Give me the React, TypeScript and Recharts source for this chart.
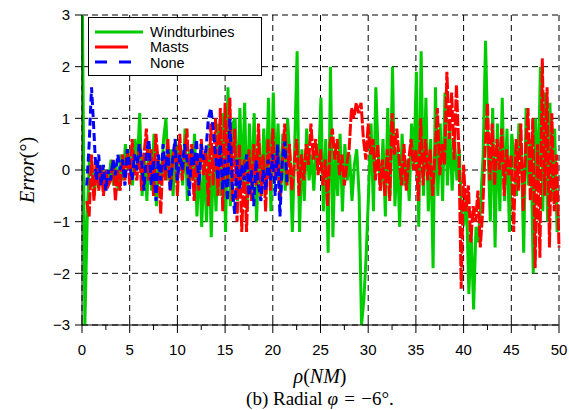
import { LineChart, Line, XAxis, YAxis, CartesianGrid } from 'recharts';

// samples every 0.25 NM
const xStep = 0.25;

const windStart = 0.05;
const windturbines = [
  3, -3, -0.9, 0.3,
  0.1, -0.5, 0.2, -0.3,
  0.1, -0.4, 0.0, -0.2,
  0.2, -0.3, 0.1, -0.4,
  0.3, -0.2, 0.5, 0.0,
  0.4, -0.3, 0.6, 0.1,
  1.1, -0.5, 0.3, -0.6,
  0.5, -0.4, 0.7, -0.7,
  0.2, -0.3, 0.6, 1.0,
  -0.2, 0.4, -0.5, 0.6,
  0.0, 0.5, -0.3, 0.8,
  -0.6, 0.4, -0.2, 0.7,
  -0.9, 0.3, -1.1, 0.2,
  -1.0, 0.5, -1.3, 0.4,
  -0.8, 0.9, -0.5, 1.1,
  -1.2, 1.6, -0.7, 0.9,
  1.0, -0.6, 1.2, -0.3,
  1.3, -0.8, 0.9, -0.4,
  1.1, -1.0, 0.6, -0.5,
  0.8, -0.3, 1.4, -0.8,
  1.5, -0.2, 0.9, -0.6,
  0.7, -0.4, 1.0, 0.2,
  -1.2, 0.5, 2.3, -1.2,
  0.4, -0.6, 0.8, -0.2,
  0.3, -0.4, 0.5, 0.1,
  1.4, -0.8, 0.6, -1.6,
  2.0, -1.3, 0.4, -0.5,
  0.7, -0.8, 0.5, -0.2,
  0.3, -0.6, 0.1, 0.4,
  -0.5, -3.0, -2.5, -1.6,
  -0.4, 0.9, -0.8, 1.6,
  0.3, -0.4, 0.6, -0.9,
  1.2, -0.5, 2.0, -0.7,
  0.4, -1.1, 0.7, -0.3,
  0.2, -0.6, 0.9, 0.1,
  1.9, -1.1, 2.3, -0.5,
  1.4, -0.8, 0.6, -1.9,
  1.6, -0.5, 0.9, -0.6,
  1.5, -0.3, 0.8, -0.4,
  0.6, -0.2, 0.4, -0.9,
  -1.0, -0.5, -2.4, -1.2,
  -2.7, -1.1, -1.4, -0.6,
  0.3, 2.5, 0.5, -1.0,
  1.2, -1.5, 0.9, -0.8,
  1.4, -0.6, 0.8, -1.2,
  0.7, 0.2, -0.5, 0.9,
  0.4, -1.6, 1.2, -0.3,
  0.6, -2.0, 1.0, -0.4,
  2.0, -0.8, 1.5, -1.0,
  1.3, -0.6, 0.8, -1.2,
];

const mastsStart = 0.5;
const masts = [
  -0.6, -0.9,
  0.3, -0.6, 0.2, -0.4,
  0.1, -0.5, 0.0, -0.3,
  -0.2, 0.2, -0.6, 0.0,
  -0.4, 0.3, -0.2, 0.4,
  -0.3, 0.6, 0.0, -0.2,
  0.5, -0.4, 0.3, 0.8,
  -0.2, 0.4, -0.5, 0.7,
  0.1, -0.85, 0.3, -0.2,
  0.6, -0.4, 0.2, 0.5,
  -0.5, 0.7, -0.2, 0.3,
  0.8, -0.3, 0.5, -0.6,
  0.2, -0.4, 0.6, -0.1,
  0.4, -0.7, 0.9, -0.3,
  1.0, -0.5, 1.2, -0.8,
  1.3, -0.2, 1.4, -0.6,
  0.8, -1.0, 0.5, -1.2,
  0.2, -1.2, 0.4, -0.6,
  0.5, -0.3, 0.9, -0.5,
  0.3, -0.8, 0.6, -0.4,
  0.8, -0.2, 0.4, -0.6,
  0.2, 0.9, -0.3, 0.5,
  -0.4, 0.1, 0.6, -0.5,
  0.3, -0.2, 0.5, 0.1,
  0.9, 0.2, 0.6, -0.1,
  0.4, -0.3, 0.2, -0.7,
  0.5, 0.8, 0.2, 0.6,
  -0.1, 0.3, -0.3, 0.1,
  0.4, 1.2, 1.0, 1.3,
  1.1, 1.3, 0.6, 0.2,
  0.9, 0.3, 0.6, -0.2,
  0.5, -0.4, 0.2, -0.5,
  0.4, -0.6, 1.1, 0.3,
  0.8, 0.2, -0.3, 0.5,
  -0.4, 0.2, 0.6, 0.0,
  0.4, -0.6, 1.0, -0.3,
  0.6, -0.2, 0.4, -0.5,
  0.3, 1.2, -0.1, 0.5,
  0.1, 1.9, 0.6, 1.5,
  0.2, 1.65, 0.4, -2.3,
  0.1, -0.8, -0.3, -1.4,
  -0.7, -1.0, -0.4, -1.5,
  -0.8, 0.4, 1.3, -0.2,
  0.9, -0.3, 0.6, 0.0,
  0.8, -0.5, 0.4, -0.1,
  0.3, -1.2, 0.6, -0.4,
  0.9, -0.8, 0.4, 1.2,
  -0.6, 1.0, -1.9, 0.5,
  -1.7, 2.16, -0.5, 1.6,
  -1.5, 1.1, -0.8, 0.3,
  -1.5,
];

const noneStart = 0.5;
const none = [
  -0.3, 0.5,
  1.6, 0.75, -0.2, 0.3,
  -0.3, 0.1, -0.4, 0.0,
  -0.2, 0.2, -0.1, 0.3,
  0.0, 0.2, -0.3, 0.4,
  0.1, -0.2, 0.3, 0.0,
  0.5, 0.2, -0.4, 0.3,
  0.6, -0.3, 0.2, -0.6,
  0.3, -0.2, 0.5, 0.0,
  0.4, -0.4, 0.2, 0.6,
  -0.2, 0.3, 0.0, 0.5,
  0.2, -0.5, 0.4, 0.1,
  0.6, -0.3, 0.5, 0.2,
  0.4, 1.0, 1.2, 0.8,
  0.3, -0.2, 0.5, -0.4,
  0.2, -0.6, 1.0, -0.3,
  -0.85, 0.2, -0.4, 0.1,
  -0.2, 0.3, -0.5, 0.0,
  -0.7, 0.2, -0.3, -0.6,
  0.0, -0.4, 0.2, -0.2,
  0.3, -0.5, 0.5, -0.9,
  0.2, 0.55, -0.3,
];

const xTicks = [0, 2.5, 5, 7.5, 10, 12.5, 15, 17.5, 20, 22.5, 25, 27.5, 30, 32.5, 35, 37.5, 40, 42.5, 45, 47.5, 50];
const xMajor = [0, 5, 10, 15, 20, 25, 30, 35, 40, 45, 50];
const yTicks = [-3, -2, -1, 0, 1, 2, 3];

const sans = '"Liberation Sans", Arial, Helvetica, sans-serif';
const serif = '"Liberation Serif", "Times New Roman", serif';

const toPoints = (start: number, values: number[]) =>
  values.map((y, i) => ({ x: start + i * xStep, y }));

const series = [
  { name: 'Windturbines', color: '#00cc00', dash: undefined, data: toPoints(windStart, windturbines) },
  { name: 'Masts', color: '#ff0000', dash: '12 2', data: toPoints(mastsStart, masts) },
  { name: 'None', color: '#0000ff', dash: '8 4', data: toPoints(noneStart, none) },
];

const XTick = (props: any) => {
  const { x, y, payload } = props;
  const major = payload.value % 5 === 0;
  return (
    <g>
      <line x1={x} x2={x} y1={major ? y - 4 : y} y2={y + (major ? 8 : 5)} stroke="#000" />
      {major && (
        <text x={x} y={y + 30} textAnchor="middle" fontSize={15} fontFamily={sans} fill="#000">
          {payload.value}
        </text>
      )}
    </g>
  );
};

const LegendBox = () => (
  <div
    style={{
      position: 'absolute',
      left: 88,
      top: 17,
      width: 172,
      height: 57,
      border: '1px solid #000',
      background: '#fff',
    }}
  >
    <svg width={172} height={57} style={{ display: 'block' }}>
      <line x1={6} x2={54} y1={14} y2={14} stroke="#00cc00" strokeWidth={3} />
      <line x1={6} x2={39} y1={29} y2={29} stroke="#ff0000" strokeWidth={3} />
      <line x1={6} x2={42} y1={44} y2={44} stroke="#0000ff" strokeWidth={3} strokeDasharray="12 12" />
      <text x={61} y={19} fontSize={14.5} fontFamily={sans}>Windturbines</text>
      <text x={61} y={34} fontSize={14.5} fontFamily={sans}>Masts</text>
      <text x={61} y={49.5} fontSize={14.5} fontFamily={sans}>None</text>
    </svg>
  </div>
);

export default function App() {
  return (
    <div style={{ position: 'absolute', left: 0, top: 0, width: 569, height: 410, background: '#fff' }}>
      <LineChart width={569} height={410} margin={{ top: 15, right: 10, bottom: 0, left: 0 }}>
        <CartesianGrid
          stroke="#000"
          strokeDasharray="6 4"
          verticalCoordinatesGenerator={({ xAxis, offset }: any) =>
            xMajor.map((v) =>
              xAxis && typeof xAxis.scale === 'function'
                ? xAxis.scale(v)
                : offset.left + (offset.width * v) / 50
            )
          }
        />
        <XAxis
          type="number"
          dataKey="x"
          domain={[0, 50]}
          ticks={xTicks}
          interval={0}
          height={85}
          tickSize={0}
          tickMargin={0}
          tick={<XTick />}
          axisLine={{ stroke: '#000' }}
          allowDuplicatedCategory={false}
        />
        <YAxis
          type="number"
          domain={[-3, 3]}
          ticks={yTicks}
          width={82}
          tickSize={7}
          tickMargin={5}
          tickLine={{ stroke: '#000' }}
          axisLine={{ stroke: '#000' }}
          tick={{ fill: '#000', fontSize: 15, fontFamily: sans }}
          tickFormatter={(v: number) => (v < 0 ? `\u2212${-v}` : `${v}`)}
        />
        {series.map((s) => (
          <Line
            key={s.name}
            name={s.name}
            data={s.data}
            dataKey="y"
            type="linear"
            stroke={s.color}
            strokeWidth={3}
            strokeDasharray={s.dash}
            dot={false}
            activeDot={false}
            isAnimationActive={false}
          />
        ))}
      </LineChart>
      <LegendBox />
      <div style={{ position: 'absolute', left: 0, top: 170, width: 0, height: 0 }}>
        <div
          style={{
            position: 'absolute',
            left: 27,
            top: 0,
            transform: 'translate(-50%, -50%) rotate(-90deg)',
            fontFamily: serif,
            fontSize: 20,
            whiteSpace: 'nowrap',
            color: '#000',
          }}
        >
          <i>Error</i>(°)
        </div>
      </div>
      <div
        style={{
          position: 'absolute',
          left: 220,
          width: 200,
          top: 365,
          textAlign: 'center',
          fontFamily: serif,
          fontSize: 20,
          color: '#000',
          whiteSpace: 'nowrap',
        }}
      >
        <i>ρ</i>(<i>NM</i>)
      </div>
      <div
        style={{
          position: 'absolute',
          left: 170,
          width: 300,
          top: 388,
          textAlign: 'center',
          fontFamily: serif,
          fontSize: 19,
          color: '#000',
          whiteSpace: 'nowrap',
        }}
      >
        (b) Radial <i>φ</i>{'\u2004'}={'\u2004'}−6°.
      </div>
    </div>
  );
}
